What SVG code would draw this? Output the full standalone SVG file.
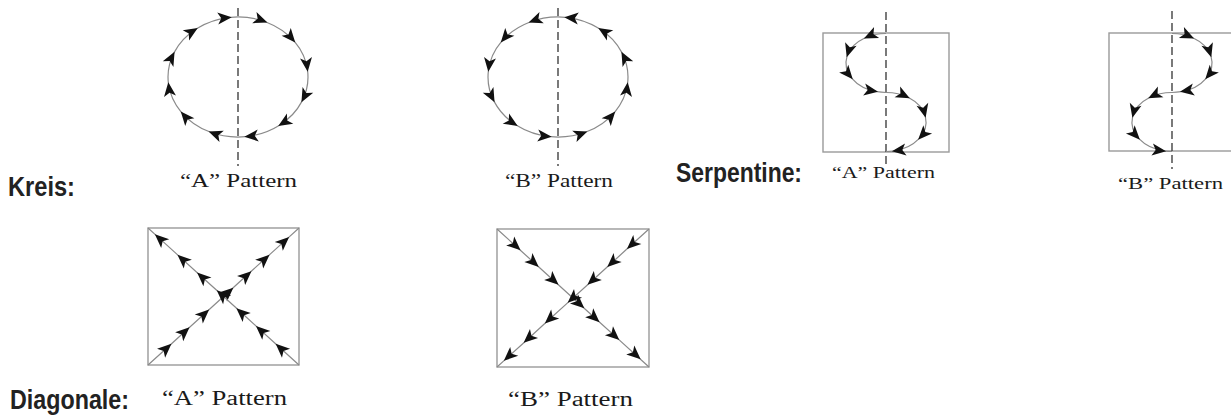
<svg xmlns="http://www.w3.org/2000/svg" width="1231" height="416" viewBox="0 0 1231 416">
<style>
.bg{fill:#ffffff}
.curve{fill:none;stroke:#8a8a8a;stroke-width:1.2;marker-start:url(#ah);marker-mid:url(#ah)}
.curve2{fill:none;stroke:#8a8a8a;stroke-width:1.2;marker-mid:url(#ah)}
.axis{fill:none;stroke:#333;stroke-width:1.3;stroke-dasharray:8 4}
.box{fill:none;stroke:#9a9a9a;stroke-width:1.4}
.cap{font-family:"Liberation Serif","Times New Roman",serif;fill:#1a1a1a}
.lbl{font-family:"Liberation Sans Narrow","Liberation Sans",Arial,sans-serif;font-weight:bold;font-size:28px;fill:#222}
</style>
<defs>
<marker id="ah" viewBox="-15 -8 17 16" refX="0" refY="0" markerWidth="17" markerHeight="16" markerUnits="userSpaceOnUse" orient="auto">
<path d="M1,0 L-13,-6 L-9.5,0 L-13,6 Z" fill="#111"/>
</marker>
</defs>
<rect class="bg" x="0" y="0" width="1231" height="416"/>

<g id="label-kreis"><text class="lbl" x="8" y="196" textLength="67" lengthAdjust="spacingAndGlyphs">Kreis:</text></g>
<g id="label-serpentine"><text class="lbl" x="676" y="182" textLength="126" lengthAdjust="spacingAndGlyphs">Serpentine:</text></g>
<g id="label-diagonale"><text class="lbl" x="10" y="409" textLength="119" lengthAdjust="spacingAndGlyphs">Diagonale:</text></g>

<g id="kreis-a">
<line class="axis" x1="238" y1="8" x2="238" y2="166"/>
<path class="curve" d="M230.7,17.3 A70,60 0 0 1 266.5,22.2 A70,60 0 0 1 294.6,41.7 A70,60 0 0 1 307.6,70.7 A70,60 0 0 1 301.9,101.4 A70,60 0 0 1 279.1,125.5 A70,60 0 0 1 245.3,136.7 A70,60 0 0 1 209.5,131.8 A70,60 0 0 1 181.4,112.3 A70,60 0 0 1 168.4,83.3 A70,60 0 0 1 174.1,52.6 A70,60 0 0 1 196.9,28.5 A70,60 0 0 1 230.7,17.3"/>
<text class="cap" x="180" y="187" font-size="19" textLength="117" lengthAdjust="spacingAndGlyphs">“A” Pattern</text>
</g>

<g id="kreis-b">
<line class="axis" x1="558" y1="8" x2="558" y2="166"/>
<path class="curve" d="M565.3,17.3 A70,60 0 0 0 529.5,22.2 A70,60 0 0 0 501.4,41.7 A70,60 0 0 0 488.4,70.7 A70,60 0 0 0 494.1,101.4 A70,60 0 0 0 516.9,125.5 A70,60 0 0 0 550.7,136.7 A70,60 0 0 0 586.5,131.8 A70,60 0 0 0 614.6,112.3 A70,60 0 0 0 627.6,83.3 A70,60 0 0 0 621.9,52.6 A70,60 0 0 0 599.1,28.5 A70,60 0 0 0 565.3,17.3"/>
<text class="cap" x="505" y="187" font-size="19" textLength="108" lengthAdjust="spacingAndGlyphs">“B” Pattern</text>
</g>

<g id="serpentine-a">
<rect class="box" x="823" y="33" width="126" height="119"/>
<line class="axis" x1="886" y1="12" x2="886" y2="168"/>
<path class="curve2" d="M886,33.5 A40,29.5 0 0 0 864.8,38.0 A40,29.5 0 0 0 847.0,56.4 A40,29.5 0 0 0 852.1,78.6 A40,29.5 0 0 0 877.0,91.7 A40,29.5 0 0 0 886,92.5"/>
<path class="curve2" d="M886,92.5 A40,29.5 0 0 1 908.9,97.8 A40,29.5 0 0 1 925.4,116.9 A40,29.5 0 0 1 918.8,138.9 A40,29.5 0 0 1 892.9,151.1 A40,29.5 0 0 1 886,151.5"/>
<text class="cap" x="832" y="178" font-size="16" textLength="103" lengthAdjust="spacingAndGlyphs">“A” Pattern</text>
</g>

<g id="serpentine-b">
<rect class="box" x="1109" y="33" width="126" height="118"/>
<line class="axis" x1="1172" y1="11" x2="1172" y2="169"/>
<path class="curve2" d="M1172,33.5 A40,29.5 0 0 1 1193.2,38.0 A40,29.5 0 0 1 1211.0,56.4 A40,29.5 0 0 1 1205.9,78.6 A40,29.5 0 0 1 1181.0,91.7 A40,29.5 0 0 1 1172,92.5"/>
<path class="curve2" d="M1172,92.5 A40,29.5 0 0 0 1149.1,97.8 A40,29.5 0 0 0 1132.6,116.9 A40,29.5 0 0 0 1139.2,138.9 A40,29.5 0 0 0 1165.1,151.1 A40,29.5 0 0 0 1172,151.5"/>
<text class="cap" x="1118" y="189" font-size="16" textLength="105" lengthAdjust="spacingAndGlyphs">“B” Pattern</text>
</g>

<g id="diagonale-a">
<rect class="box" x="148" y="228" width="151" height="137"/>
<polyline class="curve2" points="148,365 170.7,344.5 188.8,328.0 208.4,310.2 232.6,288.3 250.7,271.8 268.8,255.4 288.4,237.6 299,228"/>
<polyline class="curve2" points="299,365 276.4,344.5 256.7,326.6 237.1,308.8 217.5,291.0 197.8,273.2 178.2,255.4 155.6,234.9 148,228"/>
<text class="cap" x="162" y="405" font-size="20" textLength="125" lengthAdjust="spacingAndGlyphs">“A” Pattern</text>
</g>

<g id="diagonale-b">
<rect class="box" x="497" y="229" width="152" height="138"/>
<polyline class="curve2" points="497,229 519.8,249.7 538.0,266.3 557.8,284.2 583.6,307.7 598.8,321.5 618.6,339.4 639.9,358.7 649,367"/>
<polyline class="curve2" points="649,229 627.7,248.3 608.0,266.3 588.2,284.2 568.4,302.1 545.6,322.8 524.4,342.2 504.6,360.1 497,367"/>
<text class="cap" x="508" y="406" font-size="20" textLength="125" lengthAdjust="spacingAndGlyphs">“B” Pattern</text>
</g>
</svg>
